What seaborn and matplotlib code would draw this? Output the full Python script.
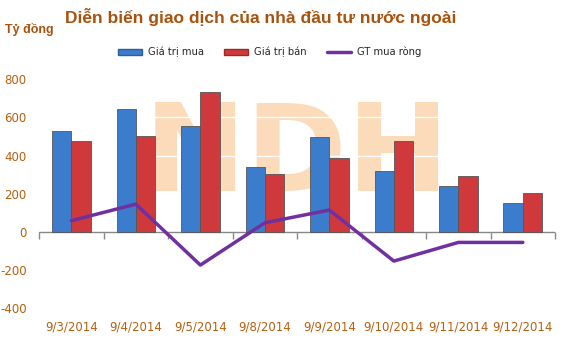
import numpy as np
import pandas as pd
import matplotlib
matplotlib.use("Agg")
import matplotlib.pyplot as plt
from matplotlib.patches import Patch
from matplotlib.lines import Line2D
import seaborn as sns

# values (ty dong)
dates = ["9/3/2014", "9/4/2014", "9/5/2014", "9/8/2014",
         "9/9/2014", "9/10/2014", "9/11/2014", "9/12/2014"]
buy = [530, 646, 556, 341, 499, 320, 241, 149]
sell = [474, 504, 735, 301, 388, 474, 294, 205]
net = [58, 145, -175, 47, 114, -154, -56, -56]
yticks = [-400, -200, 0, 200, 400, 600, 800]

blue = "#3b7dcc"
red = "#d0393b"
purple = "#7030a0"
label_col = "#b5600f"
title_col = "#a9520c"

sns.set_style("white")
plt.rcParams["font.family"] = ["DejaVu Sans"]

df = pd.DataFrame({
    "date": dates * 2,
    "value": buy + sell,
    "series": ["Giá trị mua"] * len(dates) + ["Giá trị bán"] * len(dates),
})

fig = plt.figure(figsize=(5.67, 3.64), dpi=100)
ax = fig.add_axes([0.069, 0.154, 0.91, 0.628])
ymin, ymax = -400, 800
ax.set_ylim(ymin, ymax)

# faded watermark behind everything
ax.text(0.5, 388, "NDH", transform=ax.get_yaxis_transform(), ha="center", va="center",
        fontsize=88, fontweight="bold", color="#f9c995", alpha=0.65, zorder=0)
for v in yticks:
    ax.axhline(v, color="white", lw=1, zorder=0.5)

sns.barplot(data=df, x="date", y="value", hue="series", palette=[blue, red],
            width=0.6, saturation=1, legend=False, ax=ax,
            edgecolor="#555555", linewidth=0.6, zorder=2)
for p in ax.patches:
    p.set_zorder(2)

pos = np.arange(len(dates))
ax.axhline(0, color="#888888", lw=1, zorder=1)
sns.lineplot(x=pos, y=net, color=purple, linewidth=2.5, ax=ax, zorder=3)

ax.set_xlim(-0.5, len(dates) - 0.5)
ax.set_yticks(yticks)
ax.set_yticklabels([str(v) for v in yticks])
ax.tick_params(axis="y", length=0, pad=9, labelsize=8.5, labelcolor=label_col)
ax.set_xticks(pos)
ax.set_xticklabels(dates)
ax.tick_params(axis="x", length=0, pad=9, labelsize=8.5, labelcolor=label_col)
ax.set_xlabel("")
ax.set_ylabel("")
for s in ["top", "right", "left", "bottom"]:
    ax.spines[s].set_visible(False)

# tick marks between categories on the zero line
zero = ax.secondary_xaxis((0 - ymin) / (ymax - ymin))
zero.set_xticks(np.arange(len(dates) + 1) - 0.5)
zero.set_xticklabels([])
zero.tick_params(length=5, color="#888888", width=1)
zero.spines["bottom"].set_visible(False)

fig.text(0.46, 0.953, "Diễn biến giao dịch của nhà đầu tư nước ngoài",
         ha="center", va="center", fontsize=12.5, fontweight="bold",
         color=title_col, family="Liberation Sans")
fig.text(0.009, 0.918, "Tỷ đồng", ha="left", va="center", fontsize=9,
         fontweight="bold", color=title_col, family="Liberation Sans")

handles = [Patch(facecolor=blue, edgecolor="#2d5e9e"),
           Patch(facecolor=red, edgecolor="#9a2a2a"),
           Line2D([0], [0], color=purple, lw=2.5)]
fig.legend(handles, ["Giá trị mua", "Giá trị bán", "GT mua ròng"],
           loc="center", bbox_to_anchor=(0.476, 0.857), ncol=3, frameon=False,
           fontsize=7.2, handlelength=2.4, handleheight=0.6, columnspacing=2.0,
           handletextpad=0.6)

fig.savefig("out.png", dpi=100)
